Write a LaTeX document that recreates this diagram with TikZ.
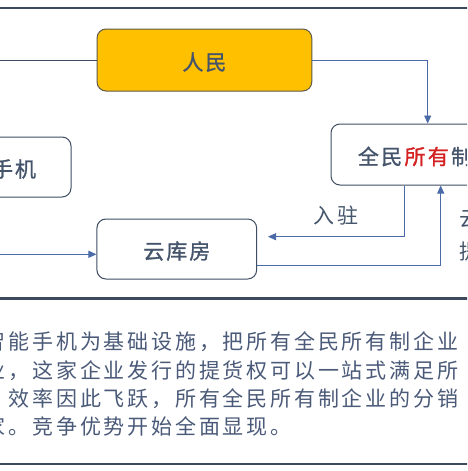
\documentclass[tikz,border=0pt]{standalone}
\usepackage{fontspec}
\setmainfont{Noto Sans CJK SC}
\newfontfamily\boxfont[FakeBold=1.2]{Noto Sans CJK SC}
\usetikzlibrary{arrows.meta}
\definecolor{textc}{HTML}{44546A}
\definecolor{paratext}{HTML}{4A5A78}
\definecolor{connc}{HTML}{4A6BA8}
\definecolor{boxline}{HTML}{3F4D63}
\definecolor{rulec}{HTML}{3D4A5C}
\definecolor{gold}{HTML}{FFC000}
\definecolor{goldline}{HTML}{5E5A48}
\definecolor{redtext}{HTML}{D42020}
\newcommand\spreadtext[2]{\def\spw{#1}\spreadaux#2\relax}
\def\spreadaux#1{\ifx\relax#1\else\makebox[\spw][c]{#1}\expandafter\spreadaux\fi}
\tikzset{
  wbox/.style={draw=boxline, line width=1pt, rounded corners=9pt, fill=white,
    inner sep=0pt, text=textc, text height=20pt, text depth=0pt,
    font=\boxfont\fontsize{21pt}{25pt}\selectfont},
  ybox/.style={wbox, fill=gold, draw=goldline},
  conn/.style={draw=connc, line width=0.9pt, -{Triangle[length=8pt,width=7pt]}},
  plainconn/.style={draw=boxline, line width=0.9pt},
  rulethin/.style={draw=rulec, line width=1.2pt},
  rulethick/.style={draw=rulec, line width=2.2pt},
  lbl/.style={inner sep=0pt, text=textc, font=\fontsize{21pt}{25pt}\selectfont},
  para/.style={inner sep=0pt, anchor=base west, text=paratext, font=\fontsize{21pt}{25pt}\selectfont}
}
\begin{document}
\begin{tikzpicture}[x=1pt,y=-1pt]
\useasboundingbox (0,0) rectangle (467,471);
\clip (0,0) rectangle (467,471);
\fill[white] (0,0) rectangle (467,471);
% rules
\coordinate (r1a) at (-5,8); \coordinate (r1b) at (472,8);
\draw[rulethin] (r1a) -- (r1b);
\coordinate (r2a) at (-5,298.5); \coordinate (r2b) at (472,298.5);
\draw[rulethick] (r2a) -- (r2b);
\coordinate (r3a) at (-5,464); \coordinate (r3b) at (472,464);
\draw[rulethick] (r3a) -- (r3b);
% boxes
\node[ybox, minimum width=214.7pt, minimum height=62pt] (renmin) at (204.4,60) {\spreadtext{23pt}{人民}};
\node[wbox, minimum width=160pt, minimum height=60pt] (shouji) at (-9,167) {\spreadtext{23pt}{智能手机}};
\node[wbox, minimum width=168pt, minimum height=61pt] (qm) at (415,154.5)
  {\spreadtext{23.3pt}{全民}\textcolor{redtext}{\spreadtext{23.3pt}{所有}}\spreadtext{23.3pt}{制}};
\node[wbox, minimum width=159.7pt, minimum height=60pt] (yun) at (176.8,249) {\spreadtext{23pt}{云库房}};
% connectors
\coordinate (inL) at (-5,60);
\draw[plainconn] (inL) -- (renmin.west);
\draw[conn] (renmin.east) -| ([xshift=12.7pt]qm.north);
\coordinate (inY) at (-5,254.3);
\draw[conn] (inY) -- (yun.west |- inY);
\coordinate (ruEnd) at (268,236.7);
\draw[conn] ([xshift=-11pt]qm.south) |- (ruEnd);
\draw[conn] ([yshift=-16.7pt]yun.east) -| ([xshift=25.7pt]qm.south);
% labels
\node[lbl] (ruzhu) at (336,216) {\spreadtext{24pt}{入驻}};
\node[lbl, anchor=base west] (yt1) at (459.5,226) {云};
\node[lbl, anchor=base west] (yt2) at (459.5,259) {提};
% paragraph
\node[para] (p1) at (-16.7,349.7) {\spreadtext{23.8pt}{智能手机为基础设施，把所有全民所有制企业}};
\node[para] (p2) at (-16.7,378) {\spreadtext{23.8pt}{业，这家企业发行的提货权可以一站式满足所}};
\node[para] (p3) at (7.1,406) {\spreadtext{23.8pt}{效率因此飞跃，所有全民所有制企业的分销}};
\node[para] (p4) at (-16.7,434.7) {\spreadtext{23.8pt}{家。竞争优势开始全面显现。}};
\end{tikzpicture}
\end{document}
